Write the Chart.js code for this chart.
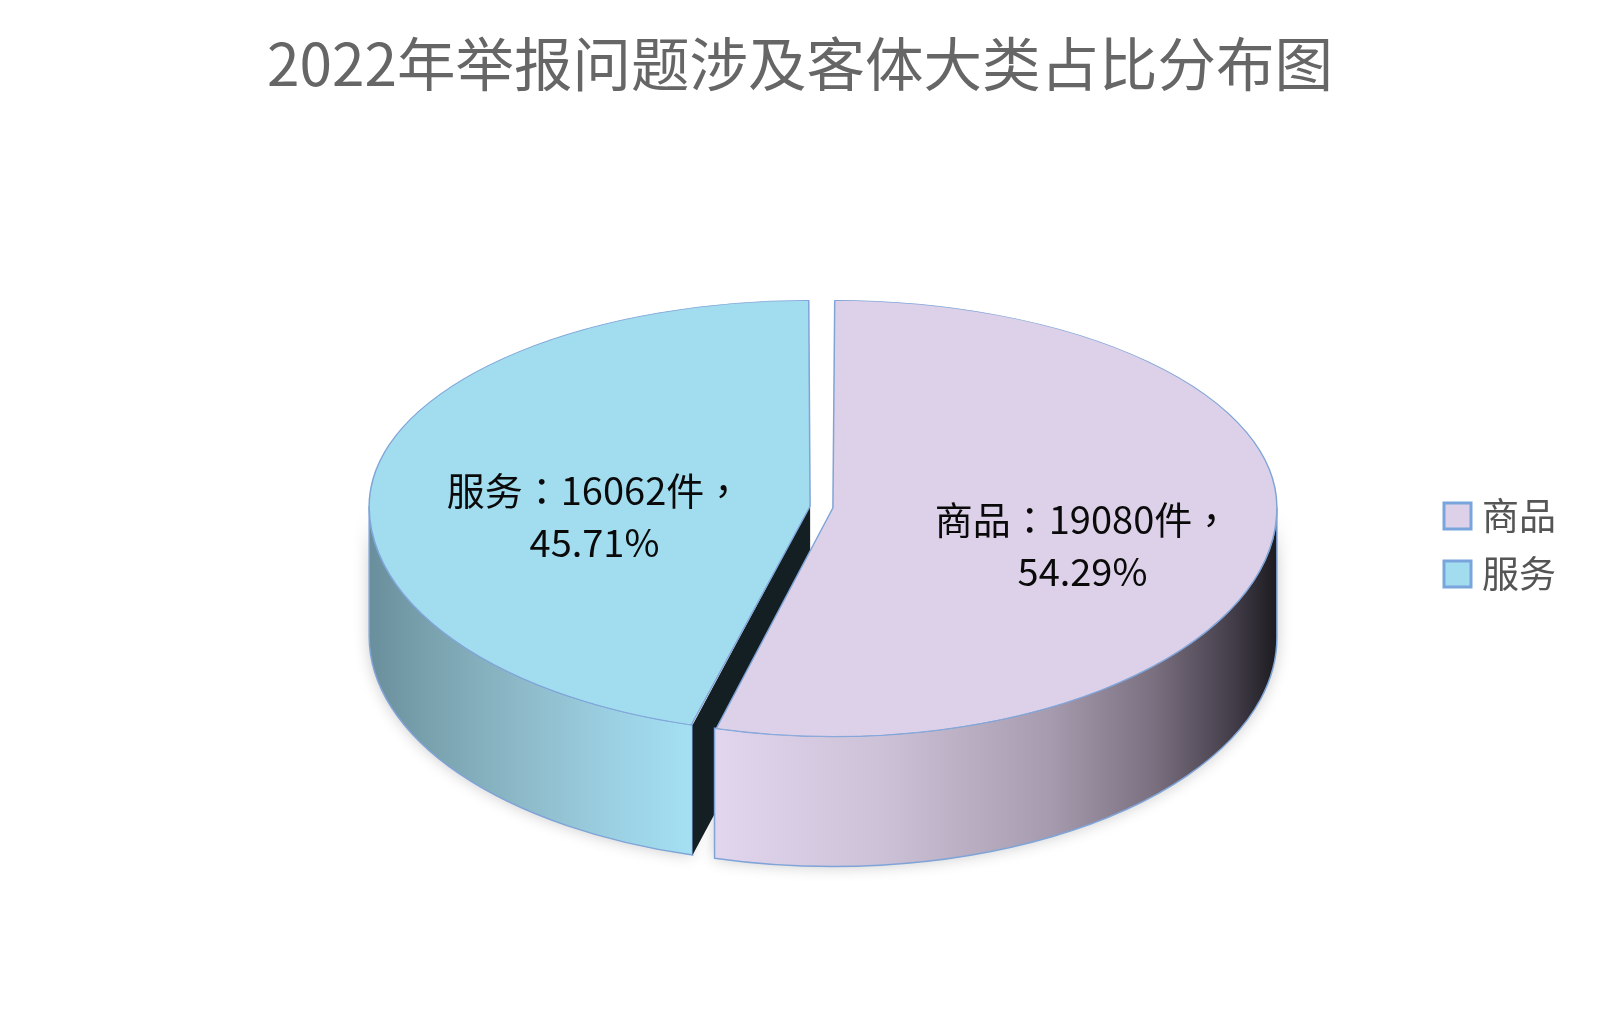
<!DOCTYPE html>
<html>
<head>
<meta charset="utf-8">
<title>2022年举报问题涉及客体大类占比分布图</title>
<script src="https://cdn.jsdelivr.net/npm/chart.js@4/dist/chart.umd.js"></script>
<style>
    html, body { margin: 0; padding: 0; background: #ffffff; }
    canvas { display: block; }
</style>
</head>
<body>
<canvas id="pieChart" width="1600" height="1010"></canvas>
<script>
const chartTitle = "2022年举报问题涉及客体大类占比分布图";
const categories = ["商品", "服务"];
const caseCounts = [19080, 16062];
const percentLabels = ["54.29%", "45.71%"];

const fontFamily = '"Noto Sans CJK SC", "Noto Sans", sans-serif';
const labelFontFamily = '"Noto Sans CJK TC", "Noto Sans", sans-serif';
const topColors = ["#dcd1e9", "#a2dcef"];
const edgeColor = "#7fa4d8";
const cutFaceColor = "#141f23";

// side wall shades, left to right
const wallShades = [
    [[0, "#e2d6ef"], [0.3, "#cdc1d7"], [0.6, "#a69bae"], [0.78, "#7b7080"], [0.92, "#443e4a"], [1, "#1c1b20"]],
    [[0, "#6a8f9c"], [0.26, "#7fa8b5"], [0.5, "#8fbccb"], [0.75, "#9bd0e2"], [1, "#a4e0f3"]],
];

// fake 3D: the flat pie is squashed and drawn over an extruded wall
const pie3d = {
    cx: 821.5,
    cy: 507,
    scaleUp: 0.467,
    scaleDown: 0.515,
    depth: 130,
    labelSpots: [[261, 39], [-227, 10]],
};

function arcShift(arc) {
    return arc.options.offset / 4;
}

// same radius correction that chart.js applies inside ArcElement.draw
function arcRadius(arc) {
    const fix = 1 - Math.sin(Math.min(Math.PI, arc.circumference));
    return arc.outerRadius + arcShift(arc) * fix;
}

function arcCenter(arc) {
    const mid = (arc.startAngle + arc.endAngle) / 2;
    return {
        x: pie3d.cx + Math.cos(mid) * arcShift(arc),
        y: pie3d.cy + Math.sin(mid) * arcShift(arc) * pie3d.scaleDown,
    };
}

function wallPath(ctx, arc) {
    const c = arcCenter(arc);
    const from = Math.max(arc.startAngle, 0);
    const to = Math.min(arc.endAngle, Math.PI);
    const rx = arcRadius(arc);
    const ry = rx * pie3d.scaleDown;
    ctx.beginPath();
    ctx.ellipse(c.x, c.y, rx, ry, 0, from, to);
    ctx.ellipse(c.x, c.y + pie3d.depth, rx, ry, 0, to, from, true);
    ctx.closePath();
}

function drawWall(ctx, arc, index) {
    const c = arcCenter(arc);
    const from = Math.max(arc.startAngle, 0);
    const to = Math.min(arc.endAngle, Math.PI);
    const xs = [c.x + Math.cos(from) * arcRadius(arc), c.x + Math.cos(to) * arcRadius(arc)];
    const gradient = ctx.createLinearGradient(Math.min(...xs), 0, Math.max(...xs), 0);
    wallShades[index].forEach(([stop, color]) => gradient.addColorStop(stop, color));

    wallPath(ctx, arc);
    ctx.fillStyle = gradient;
    ctx.fill();
    ctx.strokeStyle = edgeColor;
    ctx.lineWidth = 1.5;
    ctx.stroke();
}

function drawCutFace(ctx, arc) {
    const c = arcCenter(arc);
    const ex = c.x + Math.cos(arc.startAngle) * arcRadius(arc);
    const ey = c.y + Math.sin(arc.startAngle) * arcRadius(arc) * pie3d.scaleDown;
    ctx.beginPath();
    ctx.moveTo(c.x, c.y);
    ctx.lineTo(ex, ey);
    ctx.lineTo(ex, ey + pie3d.depth);
    ctx.lineTo(c.x, c.y + pie3d.depth);
    ctx.closePath();
    ctx.fillStyle = cutFaceColor;
    ctx.fill();
}

function drawTop(ctx, chart, arc) {
    // upper and lower half have a different squash, that gives the perspective
    [[0, pie3d.cy, pie3d.scaleUp], [pie3d.cy, chart.height - pie3d.cy, pie3d.scaleDown]].forEach(([y, h, scale]) => {
        ctx.save();
        ctx.beginPath();
        ctx.rect(0, y, chart.width, h);
        ctx.clip();
        ctx.translate(pie3d.cx, pie3d.cy);
        ctx.scale(1, scale);
        ctx.translate(-arc.x, -arc.y);
        arc.draw(ctx);
        ctx.restore();
    });
}

const pie3dPlugin = {
    id: "pie3d",
    beforeDatasetDraw(chart) {
        const ctx = chart.ctx;
        const arcs = chart.getDatasetMeta(0).data;

        // soft shadow under the walls
        ctx.save();
        ctx.shadowColor = "rgba(0,0,0,0.22)";
        ctx.shadowBlur = 16;
        ctx.fillStyle = "#ffffff";
        arcs.forEach((arc) => {
            wallPath(ctx, arc);
            ctx.fill();
        });
        ctx.restore();

        ctx.save();
        drawWall(ctx, arcs[1], 1);
        drawCutFace(ctx, arcs[1]);
        drawWall(ctx, arcs[0], 0);
        ctx.restore();

        arcs.forEach((arc) => drawTop(ctx, chart, arc));
        return false;
    },
    afterDraw(chart) {
        const ctx = chart.ctx;
        ctx.save();

        // slice labels
        ctx.font = "38px " + labelFontFamily;
        ctx.fillStyle = "#0a0a0a";
        ctx.textAlign = "center";
        ctx.textBaseline = "middle";
        categories.forEach((name, i) => {
            const x = pie3d.cx + pie3d.labelSpots[i][0];
            const y = pie3d.cy + pie3d.labelSpots[i][1];
            ctx.fillText(name + "：" + caseCounts[i] + "件，", x, y - 26);
            ctx.fillText(percentLabels[i], x, y + 26);
        });

        // legend
        ctx.font = "37px " + fontFamily;
        ctx.textAlign = "left";
        categories.forEach((name, i) => {
            const y = 516 + i * 58;
            ctx.fillStyle = topColors[i];
            ctx.fillRect(1444, y - 13, 27, 26);
            ctx.strokeStyle = "#79a5dc";
            ctx.lineWidth = 3;
            ctx.strokeRect(1444, y - 13, 27, 26);
            ctx.fillStyle = "#555555";
            ctx.fillText(name, 1482, y);
        });
        ctx.restore();
    },
};

new Chart(document.getElementById("pieChart"), {
    type: "pie",

    data: {
        labels: categories,

        datasets: [
            {
                data: caseCounts,

                backgroundColor: topColors,

                borderColor: edgeColor,

                borderWidth: 1.5,

                offset: 46,
            },
        ],
    },

    options: {
        responsive: false,

        animation: false,

        radius: 432.5,

        plugins: {
            title: {
                display: true,

                text: chartTitle,

                color: "#666666",

                padding: { top: 29, bottom: 0 },

                font: {
                    family: fontFamily,
                    size: 58.5,
                    weight: "normal",
                },
            },

            legend: {
                display: false,
            },

            tooltip: {
                enabled: false,
            },
        },
    },

    plugins: [pie3dPlugin],
});
</script>
</body>
</html>
